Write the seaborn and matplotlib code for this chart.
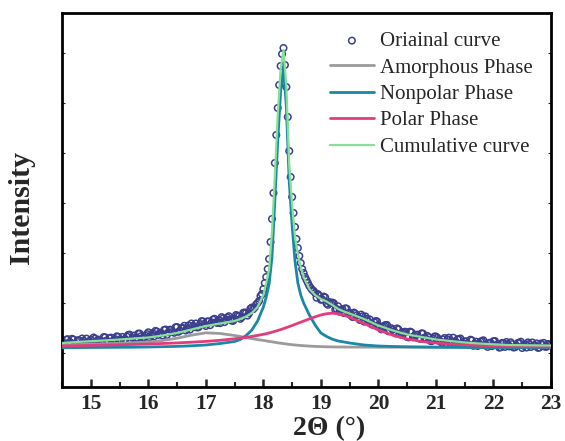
import matplotlib
matplotlib.use("Agg")
import matplotlib.pyplot as plt
import seaborn as sns

# ---------------- data ----------------
x_fit = [14.5, 14.75, 15.0, 15.25, 15.5, 15.75, 16.0, 16.25, 16.5, 16.75,
         17.0, 17.25, 17.5, 17.6, 17.7, 17.8, 17.9, 18.0, 18.05, 18.1,
         18.15, 18.2, 18.25, 18.3, 18.35, 18.4, 18.45, 18.5, 18.55, 18.6,
         18.65, 18.7, 18.8, 18.9, 19.0, 19.1, 19.2, 19.3, 19.4, 19.5,
         19.75, 20.0, 20.25, 20.5, 20.75, 21.0, 21.25, 21.5, 21.75, 22.0,
         22.25, 22.5, 22.75, 23.0]

amorphous = [42, 42.4, 42.8, 43.2, 43.7, 44.3, 45, 46.5, 48.8, 51.8,
             54.2, 53.5, 51.5, 50.5, 49.4, 48.4, 47.4, 46.6, 46.1, 45.6,
             45.2, 44.7, 44.2, 43.8, 43.4, 43, 42.6, 42.3, 42, 41.7,
             41.5, 41.3, 40.9, 40.6, 40.4, 40.2, 40.1, 40, 40, 39.9,
             39.9, 39.8, 39.8, 39.8, 39.8, 39.8, 39.8, 39.8, 39.8, 39.8,
             39.8, 39.8, 39.8, 39.8]

nonpolar = [39.4, 39.4, 39.5, 39.6, 39.7, 39.8, 40.0, 40.3, 40.6, 41.2,
            42.0, 43.5, 45.5, 47.5, 51.5, 57, 66, 80, 90, 103,
            130, 187, 246, 295, 320, 280, 205, 162, 126, 104,
            92, 84, 72, 62, 54, 50.5, 47.8, 46, 45, 44,
            42, 41, 40.5, 40.2, 40, 39.8, 39.7, 39.6, 39.5, 39.5,
            39.5, 39.5, 39.5, 39.5]

polar = [41, 41.3, 41.6, 41.9, 42.2, 42.6, 43, 43.5, 44.1, 44.8,
         45.6, 46.7, 48.2, 48.9, 49.7, 50.6, 51.6, 52.7, 53.3, 54,
         54.8, 55.6, 56.5, 57.4, 58.4, 59.4, 60.4, 61.5, 62.6, 63.7,
         64.8, 65.9, 68.1, 70.2, 72, 73.3, 73.8, 73.2, 71.8, 69.8,
         63.5, 57, 51.8, 48, 45.5, 44, 43, 42.2, 41.6, 41.1,
         40.7, 40.4, 40.2, 40]

cumulative = [44, 45, 45.8, 46.6, 47.5, 48.5, 49.5, 51.5, 54, 57.5,
              61, 63.5, 66, 68, 70.5, 74, 80, 92, 104, 118,
              155, 212, 272, 318, 337, 300, 222, 182, 150, 133,
              120, 110, 98, 92, 88, 85.5, 82, 78, 75.5, 73.5,
              68, 61.5, 56.5, 52.5, 50, 47.5, 46, 44.5, 43.5, 42.7,
              42, 41.8, 41.6, 41.5]

# observed points, part A (main grid)
x_obs = [14.5, 14.55, 14.6, 14.65, 14.7, 14.75, 14.8, 14.85, 14.9, 14.95,
         15.0, 15.05, 15.1, 15.15, 15.2, 15.25, 15.3, 15.35, 15.4, 15.45,
         15.5, 15.55, 15.6, 15.65, 15.7, 15.75, 15.8, 15.85, 15.9, 15.95,
         16.0, 16.05, 16.1, 16.15, 16.2, 16.25, 16.3, 16.35, 16.4, 16.45,
         16.5, 16.55, 16.6, 16.65, 16.7, 16.75, 16.8, 16.85, 16.9, 16.95,
         17.0, 17.05, 17.1, 17.15, 17.2, 17.25, 17.3, 17.35, 17.4, 17.45,
         17.5, 17.55, 17.6, 17.65, 17.7, 17.75, 17.8, 17.85,
         17.9, 17.925, 17.95, 17.975, 18.0, 18.025, 18.05, 18.075, 18.1, 18.125,
         18.15, 18.175, 18.2, 18.225, 18.25, 18.275, 18.3, 18.325, 18.35, 18.375,
         18.4, 18.425, 18.45, 18.475, 18.5, 18.525, 18.55, 18.575, 18.6, 18.625,
         18.65, 18.675, 18.7, 18.725, 18.75, 18.775, 18.8, 18.825, 18.85, 18.875,
         18.9,
         18.95, 19.0, 19.05, 19.1, 19.15, 19.2, 19.25, 19.3, 19.35, 19.4,
         19.45, 19.5, 19.55, 19.6, 19.65, 19.7, 19.75, 19.8, 19.85, 19.9,
         19.95, 20.0, 20.05, 20.1, 20.15, 20.2, 20.25, 20.3, 20.35, 20.4,
         20.45, 20.5, 20.55, 20.6, 20.65, 20.7, 20.75, 20.8, 20.85, 20.9,
         20.95, 21.0, 21.05, 21.1, 21.15, 21.2, 21.25, 21.3, 21.35, 21.4,
         21.45, 21.5, 21.55, 21.6, 21.65, 21.7, 21.75, 21.8, 21.85, 21.9,
         21.95, 22.0, 22.05, 22.1, 22.15, 22.2, 22.25, 22.3, 22.35, 22.4,
         22.45, 22.5, 22.55, 22.6, 22.65, 22.7, 22.75, 22.8, 22.85, 22.9,
         22.95, 23.0]

y_obs = [46.0, 41.9, 47.8, 44.5, 47.4, 42.5, 46.5, 48.5, 44.3, 43.2,
         47.4, 49.5, 44.4, 47.1, 45.7, 49.7, 44.3, 49.4, 47.2, 50.6,
         46.5, 50.1, 47.6, 52.0, 46.9, 51.4, 49.3, 53.4, 48.6, 51.3,
         54.7, 51.5, 50.6, 55.4, 54.2, 51.5, 57.5, 54.7, 57.2, 54.2,
         59.9, 56.2, 59.0, 56.5, 61.6, 63.5, 60.1, 59.5, 63.0, 65.6,
         61.0, 65.5, 64.7, 68.2, 64.1, 63.9, 68.6, 67.7, 70.8, 66.4,
         68.3, 71.3, 68.2, 74.2, 74.2, 73.6, 79.5, 79.6,
         84, 86, 91, 93, 98, 104, 110, 118, 128, 145,
         168, 194, 224, 252, 279, 302, 321, 333, 339, 322,
         300, 270, 236, 210, 190, 174, 160, 148, 139, 131,
         124, 118, 114, 110, 107, 104, 101, 99, 97, 96,
         94,
         92.9, 87.2, 90.4, 83.3, 84.9, 84.4, 77.3, 80.7, 76.8, 73.9,
         78.3, 74.2, 70.0, 73.3, 69.7, 72.4, 65.4, 68.1, 67.6, 62.2,
         65.9, 61.8, 57.7, 61.2, 62.0, 56.3, 57.4, 53.6, 57.5, 53.8,
         55.2, 50.0, 55.4, 50.1, 52.2, 48.8, 53.7, 49.4, 51.1, 46.2,
         48.6, 50.5, 46.3, 44.3, 49.0, 47.6, 44.2, 49.3, 45.0, 47.6,
         42.6, 45.5, 43.2, 47.3, 41.2, 45.3, 43.6, 46.1, 41.7, 40.1,
         44.3, 45.8, 41.9, 39.4, 44.1, 40.1, 42.8, 44.7, 39.5, 41.3,
         44.1, 39.0, 42.9, 44.6, 40.0, 41.4, 43.6, 39.5, 42.2, 40.2,
         43.0, 41.5]

# observed points, part B (in-between samples of the two tails)
x_obs_b = [14.525, 14.575, 14.625, 14.675, 14.725, 14.775, 14.825, 14.875, 14.925, 14.975,
           15.025, 15.075, 15.125, 15.175, 15.225, 15.275, 15.325, 15.375, 15.425, 15.475,
           15.525, 15.575, 15.625, 15.675, 15.725, 15.775, 15.825, 15.875, 15.925, 15.975,
           16.025, 16.075, 16.125, 16.175, 16.225, 16.275, 16.325, 16.375, 16.425, 16.475,
           16.525, 16.575, 16.625, 16.675, 16.725, 16.775, 16.825, 16.875, 16.925, 16.975,
           17.025, 17.075, 17.125, 17.175, 17.225, 17.275, 17.325, 17.375, 17.425, 17.475,
           17.525, 17.575, 17.625, 17.675, 17.725, 17.775, 17.825, 17.875,
           18.925, 18.975, 19.025, 19.075, 19.125, 19.175, 19.225, 19.275, 19.325, 19.375,
           19.425, 19.475, 19.525, 19.575, 19.625, 19.675, 19.725, 19.775, 19.825, 19.875,
           19.925, 19.975, 20.025, 20.075, 20.125, 20.175, 20.225, 20.275, 20.325, 20.375,
           20.425, 20.475, 20.525, 20.575, 20.625, 20.675, 20.725, 20.775, 20.825, 20.875,
           20.925, 20.975, 21.025, 21.075, 21.125, 21.175, 21.225, 21.275, 21.325, 21.375,
           21.425, 21.475, 21.525, 21.575, 21.625, 21.675, 21.725, 21.775, 21.825, 21.875,
           21.925, 21.975, 22.025, 22.075, 22.125, 22.175, 22.225, 22.275, 22.325, 22.375,
           22.425, 22.475, 22.525, 22.575, 22.625, 22.675, 22.725, 22.775, 22.825, 22.875,
           22.925, 22.975]

y_obs_b = [42.7, 47.4, 44.7, 48.2, 43.0, 46.8, 42.7, 46.4, 48.4, 45.1,
           43.7, 48.4, 47.3, 44.9, 49.9, 46.5, 48.8, 44.8, 47.9, 50.3,
           47.5, 46.3, 50.5, 52.4, 49.0, 47.8, 53.4, 50.9, 49.3, 52.9,
           49.8, 53.9, 56.1, 52.1, 54.1, 57.0, 52.1, 57.3, 55.3, 59.8,
           55.2, 58.8, 61.2, 58.2, 57.4, 61.2, 63.5, 59.8, 65.8, 63.1,
           65.6, 61.8, 67.4, 64.6, 67.2, 69.9, 64.9, 69.5, 67.5, 66.2,
           72.0, 70.6, 69.7, 74.5, 71.4, 78.4, 77.9, 82.6,
           89.3, 91.2, 87.5, 89.6, 82.2, 84.0, 83.8, 78.0, 75.3, 77.8,
           78.7, 73.7, 71.4, 74.4, 71.7, 67.1, 70.7, 70.6, 65.4, 62.9,
           64.9, 65.7, 59.8, 60.2, 62.0, 55.7, 58.8, 55.7, 58.6, 52.7,
           54.4, 55.2, 49.6, 54.7, 51.1, 52.3, 48.3, 53.4, 48.4, 49.8,
           45.9, 50.5, 49.3, 45.8, 47.6, 44.0, 49.3, 45.9, 43.9, 47.7,
           48.5, 43.9, 45.7, 42.0, 46.6, 43.4, 41.0, 45.4, 46.7, 42.0,
           44.1, 40.9, 46.0, 42.9, 39.7, 43.9, 45.0, 40.6, 42.9, 39.8,
           44.1, 45.3, 41.2, 39.5, 43.0, 44.5, 41.5, 39.1, 43.5, 44.1,
           40.3, 42.5]

x_ticks = [15, 16, 17, 18, 19, 20, 21, 22, 23]
x_minor = [14.5, 15.5, 16.5, 17.5, 18.5, 19.5, 20.5, 21.5, 22.5]
y_tick_marks = [34, 84, 134, 184, 234, 284, 334]
labels = ["Oriainal curve", "Amorphous Phase", "Nonpolar Phase",
          "Polar Phase", "Cumulative curve"]

# ---------------- style ----------------
sns.set_style("ticks")
plt.rcParams["font.family"] = ["Liberation Serif", "DejaVu Serif"]
plt.rcParams["mathtext.fontset"] = "stix"

W, H = 565, 441
fig = plt.figure(figsize=(W / 100, H / 100), dpi=100)
ax = fig.add_axes([62 / W, 1 - 387 / H, 489 / W, 374 / H])

c_obs = "#3c3f8e"
c_amo = "#9b9b9b"
c_non = "#1b87a6"
c_pol = "#e23c7c"
c_cum = "#86e096"

sns.scatterplot(x=x_obs + x_obs_b, y=y_obs + y_obs_b, ax=ax, marker="o", s=22,
                facecolor="none", edgecolor=c_obs, linewidth=1.1,
                label=labels[0], zorder=2)
sns.lineplot(x=x_fit, y=amorphous, ax=ax, color=c_amo, lw=2.0,
             label=labels[1], zorder=3)
sns.lineplot(x=x_fit, y=nonpolar, ax=ax, color=c_non, lw=2.0,
             label=labels[2], zorder=4)
sns.lineplot(x=x_fit, y=polar, ax=ax, color=c_pol, lw=2.0,
             label=labels[3], zorder=5)
sns.lineplot(x=x_fit, y=cumulative, ax=ax, color=c_cum, lw=1.6,
             label=labels[4], zorder=6)

ax.set_xlim(14.5, 23)
ax.set_ylim(0, 374)
ax.set_xticks(x_ticks)
ax.set_xticks(x_minor, minor=True)
ax.set_xticklabels([str(t) for t in x_ticks], fontsize=15.5, fontweight="bold")
ax.set_yticks(y_tick_marks)
ax.tick_params(axis="x", which="major", direction="in", length=6, width=1.8,
               pad=5, top=False)
ax.tick_params(axis="x", which="minor", direction="in", length=3.5,
               width=1.5, top=False)
ax.tick_params(axis="y", which="major", direction="in", length=2.5, width=0.8,
               left=True, right=True, labelleft=False)
for sp in ax.spines.values():
    sp.set_linewidth(2.0)
    sp.set_color("black")
    sp.set_visible(True)

ax.set_xlabel("2\u0398 (\u00b0)", fontsize=20, fontweight="bold")
ax.xaxis.set_label_coords((329 - 62) / 489, -(429 - 387) / 374)
ax.xaxis.label.set_va("center")
ax.set_ylabel("Intensity", fontsize=21.5, fontweight="bold")
ax.yaxis.set_label_coords((22 - 62) / 489, (387 - 208) / 374)
ax.yaxis.label.set_va("center")

leg = ax.legend(loc="upper left", bbox_to_anchor=(330 / W, 1 - 31.5 / H),
                bbox_transform=fig.transFigure, frameon=False, fontsize=15,
                handlelength=2.1, handletextpad=0.3, labelspacing=0.33,
                borderaxespad=0, borderpad=0)

fig.savefig("out.png", dpi=100)
